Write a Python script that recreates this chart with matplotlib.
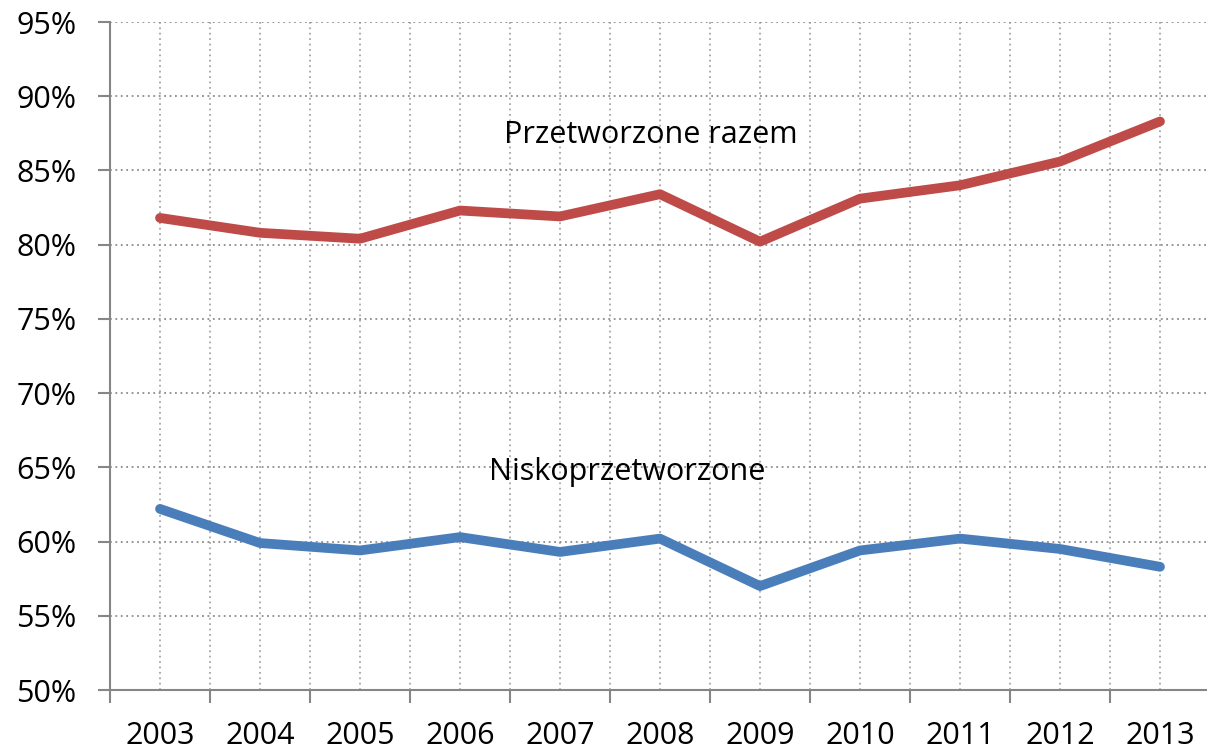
import matplotlib
matplotlib.use('Agg')
import matplotlib.pyplot as plt
import numpy as np

years = ['2003', '2004', '2005', '2006', '2007', '2008', '2009', '2010', '2011', '2012', '2013']
przetworzone = [81.8, 80.8, 80.4, 82.3, 81.9, 83.4, 80.2, 83.1, 84.0, 85.6, 88.3]
niskoprzetworzone = [62.2, 59.9, 59.4, 60.3, 59.3, 60.2, 57.0, 59.4, 60.2, 59.5, 58.3]

plt.rcParams['font.family'] = ['Open Sans', 'DejaVu Sans']

fig = plt.figure(figsize=(12.07, 7.55), dpi=100)
ax = fig.add_axes([110 / 1207, 1 - 690 / 755, 1100 / 1207, 668 / 755])

x = np.arange(len(years))
ax.plot(x, przetworzone, color='#BE4B48', lw=7, solid_capstyle='round', solid_joinstyle='round', zorder=3)
ax.plot(x, niskoprzetworzone, color='#4A7EBB', lw=7, solid_capstyle='round', solid_joinstyle='round', zorder=3)

ax.set_xlim(-0.5, len(years) - 0.5)
ax.set_ylim(50, 95)
ax.set_yticks(np.arange(50, 96, 5))
ax.set_yticklabels(['%d%%' % v for v in range(50, 96, 5)], fontsize=22)

# boundaries carry tick marks, centres carry labels
ax.set_xticks(np.arange(-0.5, len(years), 1))
ax.set_xticklabels([])
ax.set_xticks(x, minor=True)
ax.set_xticklabels(years, minor=True, fontsize=22)
ax.tick_params(axis='x', which='minor', length=0, pad=22)
ax.tick_params(axis='x', which='major', length=9, width=1.5, color='#868686')
ax.tick_params(axis='y', length=9, width=1.5, color='#868686', pad=15)

ax.grid(True, axis='y', which='major', color='#8c8c8c', linestyle=(0, (1, 2)), lw=1.3)
ax.grid(True, axis='x', which='both', color='#a6a6a6', linestyle=(0, (1, 2)), lw=1.3)
ax.set_axisbelow(True)

for s in ['top', 'right']:
    ax.spines[s].set_visible(False)
for s in ['left', 'bottom']:
    ax.spines[s].set_color('#868686')
    ax.spines[s].set_linewidth(1.5)

ax.text(4.91, 87.4, 'Przetworzone razem', fontsize=22, ha='center', va='center')
ax.text(4.67, 64.7, 'Niskoprzetworzone', fontsize=22, ha='center', va='center')

fig.savefig('out.png', dpi=100)
